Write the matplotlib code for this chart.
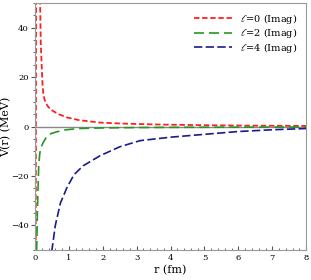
import matplotlib
matplotlib.use('Agg')
import matplotlib.pyplot as plt
from matplotlib.ticker import MultipleLocator

plt.rcParams['font.family'] = ['DejaVu Serif']
plt.rcParams['mathtext.fontset'] = 'dejavuserif'

# l=0 (imaginary part)
r0 = [0.005, 0.02, 0.035, 0.08, 0.15, 0.17, 0.2, 0.22, 0.245, 0.28, 0.33, 0.4, 0.53, 0.7, 0.94, 1.3, 1.92, 2.6, 3.7, 5.0, 6.5, 8.0]
v0 = [-90, -70, 90, 80, 51, 34, 24, 17.5, 13.4, 11.0, 9.2, 7.8, 6.3, 5.0, 3.7, 2.6, 1.6, 1.2, 0.8, 0.55, 0.35, 0.25]

# l=2 (imaginary part)
r2 = [0.04, 0.05, 0.07, 0.09, 0.11, 0.14, 0.18, 0.24, 0.35, 0.48, 0.8, 1.27, 2.0, 3.0, 4.5, 6.0, 8.0]
v2 = [-90, -50, -35, -25, -16, -11, -8.3, -6.5, -4.0, -2.8, -1.5, -0.8, -0.55, -0.4, -0.3, -0.25, -0.2]

# l=4 (imaginary part)
r4 = [0.45, 0.5, 0.6, 0.75, 0.94, 1.15, 1.42, 1.92, 2.5, 3.1, 4.0, 4.87, 6.0, 7.0, 8.0]
v4 = [-60, -50, -40, -31, -24.8, -19.5, -15.9, -11.8, -8.2, -5.7, -4.3, -3.3, -2.0, -1.3, -0.8]

fig = plt.figure(figsize=(3.11, 2.80), dpi=100)
ax = fig.add_axes([0.1125, 0.107, 0.872, 0.882])

ax.axhline(0, color='#888888', lw=1.0, zorder=1)
ax.plot(r0, v0, color='#ff2020', lw=1.3, dashes=(3, 1.5), label=r'$\ell$=0 (Imag)')
ax.plot(r2, v2, color='#229922', lw=1.2, dashes=(6, 3), label=r'$\ell$=2 (Imag)')
ax.plot(r4, v4, color='#1a1a8c', lw=1.2, dashes=(5, 2), label=r'$\ell$=4 (Imag)')

ax.set_xlim(0, 8)
ax.set_ylim(-50, 50)
ax.xaxis.set_major_locator(MultipleLocator(1))
ax.xaxis.set_minor_locator(MultipleLocator(0.2))
ax.yaxis.set_major_locator(MultipleLocator(20))
ax.yaxis.set_minor_locator(MultipleLocator(5))
ax.tick_params(axis='x', which='both', direction='in', labelsize=6, color='#555555', pad=3)
ax.tick_params(axis='y', which='both', direction='out', labelsize=6, color='#555555', pad=1.5)
ax.tick_params(which='major', length=3)
ax.tick_params(which='minor', length=1.5)
for s in ax.spines.values():
    s.set_color('#999999')

ax.set_xlabel('r (fm)', fontsize=8, labelpad=2)
ax.set_ylabel('V(r) (MeV)', fontsize=8, labelpad=0)
ax.legend(loc='upper right', frameon=False, fontsize=7, handlelength=4, labelspacing=0.05)

plt.savefig('out.png', dpi=100)
plt.close()
